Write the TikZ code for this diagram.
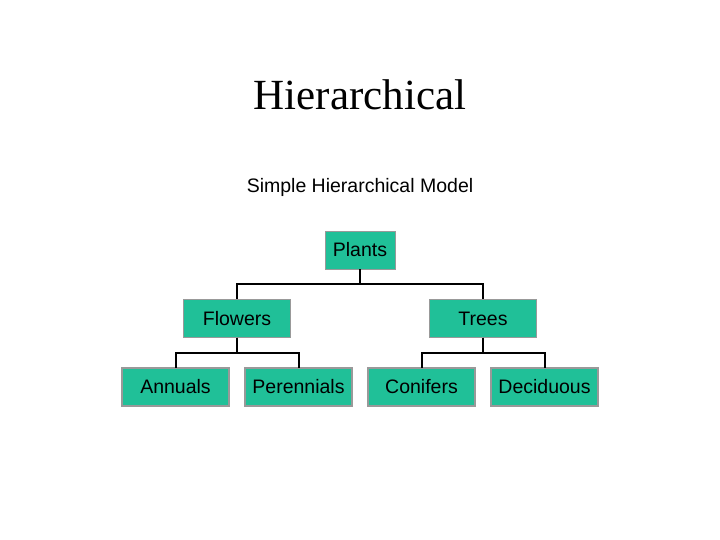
\documentclass[tikz,border=0pt]{standalone}
\usepackage{fontspec}
\setmainfont{Liberation Serif}
\setsansfont{Liberation Sans}
\usetikzlibrary{calc}
\definecolor{boxgreen}{RGB}{32,192,152}
\begin{document}
\begin{tikzpicture}[x=1pt, y=1pt,
  box/.style = {shape=rectangle, draw=gray!80, fill=boxgreen,
    minimum width=107pt, minimum height=38pt, inner sep=0pt,
    font=\sffamily\fontsize{19.5}{22}\selectfont},
  level distance=68.5pt,
  edge from parent/.style = {draw, black, line width=2pt},
  edge from parent path = {(\tikzparentnode.south)
    |- ($(\tikzparentnode.south)!.5!(\tikzchildnode.north)$)
    -| (\tikzchildnode.north)}]
    \tikzstyle{level 1}=[sibling distance=246pt]
    \tikzstyle{level 2}=[sibling distance=123pt]
  \useasboundingbox (0,0) rectangle (720,540);
  \node (title) at (360,445) {\fontsize{43}{50}\selectfont Hierarchical};
  \node[font=\sffamily\fontsize{19.5}{22}\selectfont] (model) at (360,353)
    {Simple Hierarchical Model};
  \node[box, minimum width=70pt] (plants) at (360,290) {Plants}
    child { node[box] (flowers) {Flowers}
      child { node[box] (annuals) {Annuals} }
      child { node[box] (perennials) {Perennials} }
    }
    child { node[box] (trees) {Trees}
      child { node[box] (conifers) {Conifers} }
      child { node[box] (deciduous) {Deciduous} }
    };
\end{tikzpicture}
\end{document}
